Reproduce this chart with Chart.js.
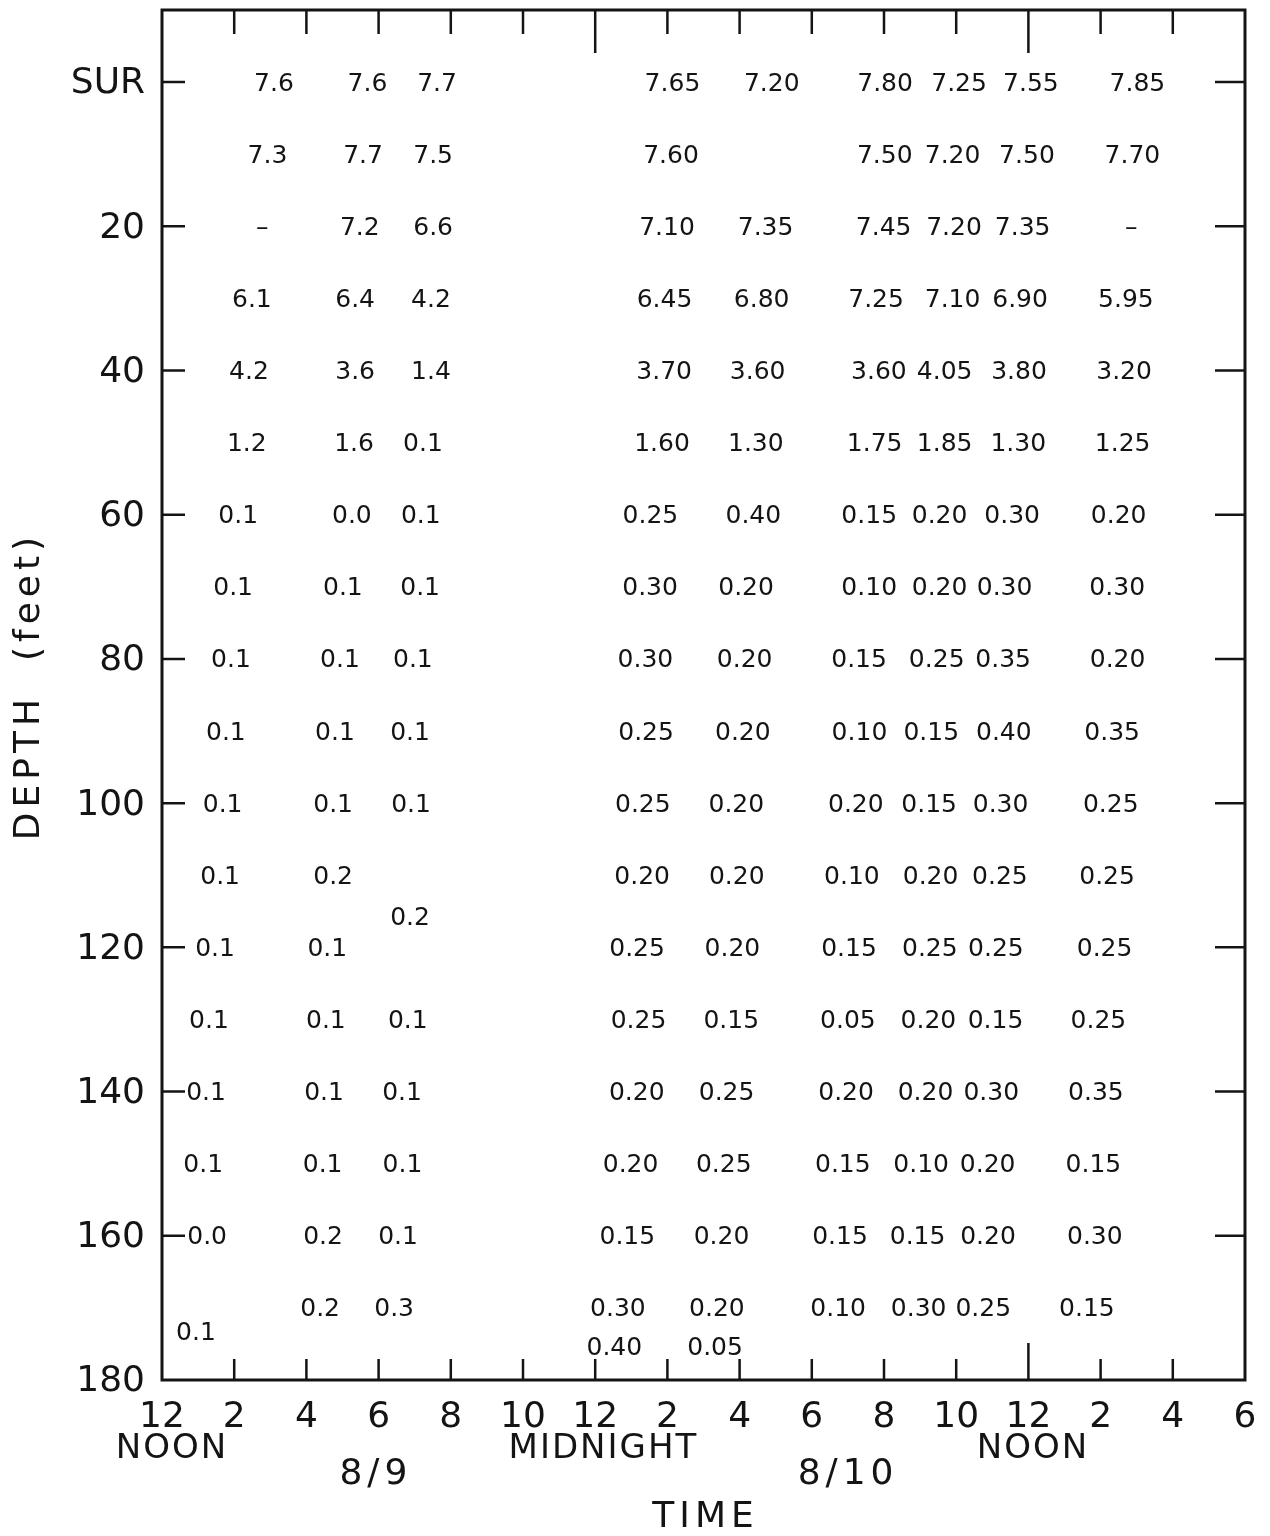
<!DOCTYPE html>
<html>
<head>
<meta charset="utf-8">
<title>Depth vs time</title>
<script src="https://cdn.jsdelivr.net/npm/chart.js@4.4.1/dist/chart.umd.min.js"></script>
<style>
  html, body { margin: 0; padding: 0; background: #fff; }
</style>
</head>
<body>
<canvas id="depthChart" width="1270" height="1536"></canvas>
<script>
// axis ticks (hours after noon 8/9, depth in feet)
const hourTicks = [0, 2, 4, 6, 8, 10, 12, 14, 16, 18, 20, 22, 24, 26, 28, 30];
const depthTicks = [0, 20, 40, 60, 80, 100, 120, 140, 160, 180];
const longTopHours = [12, 24];
const longBottomHours = [24];

// notes under the time axis
const noteHours = [0.25, 12.2, 24.1];
const noteText = ["NOON", "MIDNIGHT", "NOON"];
const dateHours = [5.87, 18.95];
const dateText = ["8/9", "8/10"];

const rows = [0, 10, 20, 30, 40, 50, 60, 70, 80, 90, 100, 110, 120, 130, 140, 150, 160, 170];

// one cast per group: depth, time of reading, value as printed
const cast1Depth = [0, 10, 20, 30, 40, 50, 60, 70, 80, 90, 100, 110, 120, 130, 140, 150, 160, 173.3];
const cast1Hour = [3.10, 2.92, 2.78, 2.49, 2.41, 2.35, 2.11, 1.97, 1.91, 1.77, 1.68, 1.61, 1.47, 1.30, 1.22, 1.14, 1.25, 0.94];
const cast1Text = ["7.6", "7.3", "–", "6.1", "4.2", "1.2", "0.1", "0.1", "0.1", "0.1", "0.1", "0.1", "0.1", "0.1", "0.1", "0.1", "0.0", "0.1"];

const cast2Depth = rows;
const cast2Hour = [5.69, 5.57, 5.48, 5.35, 5.35, 5.32, 5.26, 5.01, 4.93, 4.79, 4.74, 4.74, 4.58, 4.54, 4.49, 4.45, 4.46, 4.38];
const cast2Text = ["7.6", "7.7", "7.2", "6.4", "3.6", "1.6", "0.0", "0.1", "0.1", "0.1", "0.1", "0.2", "0.1", "0.1", "0.1", "0.1", "0.2", "0.2"];

const cast3Depth = [0, 10, 20, 30, 40, 50, 60, 70, 80, 90, 100, 115.7, 130, 140, 150, 160, 170];
const cast3Hour = [7.62, 7.51, 7.51, 7.45, 7.45, 7.23, 7.17, 7.15, 6.95, 6.87, 6.90, 6.87, 6.81, 6.65, 6.66, 6.54, 6.43];
const cast3Text = ["7.7", "7.5", "6.6", "4.2", "1.4", "0.1", "0.1", "0.1", "0.1", "0.1", "0.1", "0.2", "0.1", "0.1", "0.1", "0.1", "0.3"];

const cast4Depth = [0, 10, 20, 30, 40, 50, 60, 70, 80, 90, 100, 110, 120, 130, 140, 150, 160, 170, 175.4];
const cast4Hour = [14.14, 14.10, 13.99, 13.92, 13.91, 13.85, 13.53, 13.52, 13.39, 13.41, 13.32, 13.30, 13.16, 13.20, 13.15, 12.98, 12.89, 12.63, 12.53];
const cast4Text = ["7.65", "7.60", "7.10", "6.45", "3.70", "1.60", "0.25", "0.30", "0.30", "0.25", "0.25", "0.20", "0.25", "0.25", "0.20", "0.20", "0.15", "0.30", "0.40"];

const cast5Depth = [0, 20, 30, 40, 50, 60, 70, 80, 90, 100, 110, 120, 130, 140, 150, 160, 170, 175.4];
const cast5Hour = [16.89, 16.72, 16.61, 16.50, 16.45, 16.38, 16.18, 16.14, 16.09, 15.91, 15.92, 15.80, 15.77, 15.64, 15.56, 15.50, 15.37, 15.32];
const cast5Text = ["7.20", "7.35", "6.80", "3.60", "1.30", "0.40", "0.20", "0.20", "0.20", "0.20", "0.20", "0.20", "0.15", "0.25", "0.25", "0.20", "0.20", "0.05"];

const cast6Depth = rows;
const cast6Hour = [20.03, 20.02, 19.99, 19.78, 19.86, 19.74, 19.59, 19.59, 19.31, 19.32, 19.22, 19.11, 19.03, 19.00, 18.95, 18.86, 18.78, 18.73];
const cast6Text = ["7.80", "7.50", "7.45", "7.25", "3.60", "1.75", "0.15", "0.10", "0.15", "0.10", "0.20", "0.10", "0.15", "0.05", "0.20", "0.15", "0.15", "0.10"];

const cast7Depth = rows;
const cast7Hour = [22.08, 21.90, 21.94, 21.90, 21.68, 21.68, 21.54, 21.54, 21.46, 21.31, 21.25, 21.29, 21.27, 21.23, 21.15, 21.03, 20.93, 20.96];
const cast7Text = ["7.25", "7.20", "7.20", "7.10", "4.05", "1.85", "0.20", "0.20", "0.25", "0.15", "0.15", "0.20", "0.25", "0.20", "0.20", "0.10", "0.15", "0.30"];

const cast8Depth = rows;
const cast8Hour = [24.07, 23.96, 23.84, 23.77, 23.74, 23.72, 23.55, 23.34, 23.30, 23.32, 23.23, 23.21, 23.10, 23.09, 22.97, 22.87, 22.88, 22.75];
const cast8Text = ["7.55", "7.50", "7.35", "6.90", "3.80", "1.30", "0.30", "0.30", "0.35", "0.40", "0.30", "0.25", "0.25", "0.15", "0.30", "0.20", "0.20", "0.25"];

const cast9Depth = rows;
const cast9Hour = [27.02, 26.88, 26.85, 26.70, 26.65, 26.61, 26.50, 26.46, 26.47, 26.32, 26.28, 26.18, 26.11, 25.94, 25.87, 25.80, 25.84, 25.62];
const cast9Text = ["7.85", "7.70", "–", "5.95", "3.20", "1.25", "0.20", "0.30", "0.20", "0.35", "0.25", "0.25", "0.25", "0.25", "0.35", "0.15", "0.30", "0.15"];

const casts = [
  [cast1Depth, cast1Hour, cast1Text],
  [cast2Depth, cast2Hour, cast2Text],
  [cast3Depth, cast3Hour, cast3Text],
  [cast4Depth, cast4Hour, cast4Text],
  [cast5Depth, cast5Hour, cast5Text],
  [cast6Depth, cast6Hour, cast6Text],
  [cast7Depth, cast7Hour, cast7Text],
  [cast8Depth, cast8Hour, cast8Text],
  [cast9Depth, cast9Hour, cast9Text]
];

const INK = "#141414";
const FONT = "'DejaVu Sans', sans-serif";

function makeDatasets() {
  return casts.map(function (c, k) {
    let depth = c[0], hour = c[1], text = c[2];
    return {
      label: "cast " + (k + 1),
      data: depth.map(function (d, i) { return { x: hour[i], y: d, t: text[i] }; }),
      pointRadius: 0,
      showLine: false
    };
  });
}

// value text at each reading
const valueLabels = {
  id: "valueLabels",
  afterDatasetsDraw(chart) {
    let ctx = chart.ctx;
    ctx.save();
    ctx.fillStyle = INK;
    ctx.font = "25px " + FONT;
    ctx.textAlign = "center";
    ctx.textBaseline = "middle";
    chart.data.datasets.forEach(function (ds, k) {
      let meta = chart.getDatasetMeta(k);
      meta.data.forEach(function (pt, i) {
        // middle baseline sits a little high for digits
        ctx.fillText(ds.data[i].t, pt.x, pt.y + 2);
      });
    });
    ctx.restore();
  }
};

// frame, inward tick marks and axis notes
const frame = {
  id: "frame",
  afterDraw(chart) {
    let ctx = chart.ctx;
    let a = chart.chartArea;
    let xs = chart.scales.x, ys = chart.scales.y;
    ctx.save();
    ctx.strokeStyle = INK;
    ctx.lineWidth = 3;
    ctx.strokeRect(a.left, a.top, a.right - a.left, a.bottom - a.top);

    ctx.lineWidth = 2.5;
    ctx.beginPath();
    hourTicks.forEach(function (h) {
      if (h === hourTicks[0] || h === hourTicks[hourTicks.length - 1]) return;
      let x = xs.getPixelForValue(h);
      ctx.moveTo(x, a.top);
      ctx.lineTo(x, a.top + (longTopHours.includes(h) ? 43 : 24));
      ctx.moveTo(x, a.bottom);
      ctx.lineTo(x, a.bottom - (longBottomHours.includes(h) ? 37 : 21));
    });
    depthTicks.forEach(function (d) {
      if (d === depthTicks[depthTicks.length - 1]) return;
      let y = ys.getPixelForValue(d);
      ctx.moveTo(a.left, y);
      ctx.lineTo(a.left + 23, y);
      ctx.moveTo(a.right, y);
      ctx.lineTo(a.right - 30, y);
    });
    ctx.stroke();

    ctx.fillStyle = INK;
    ctx.textAlign = "center";
    ctx.textBaseline = "middle";
    ctx.font = "34px " + FONT;
    ctx.letterSpacing = "2px";
    noteHours.forEach(function (h, i) {
      ctx.fillText(noteText[i], xs.getPixelForValue(h) + 1, a.bottom + 69);
    });
    ctx.letterSpacing = "5px";
    ctx.font = "36px " + FONT;
    dateHours.forEach(function (h, i) {
      ctx.fillText(dateText[i], xs.getPixelForValue(h) + 2, a.bottom + 95);
    });
    ctx.fillText("TIME", (a.left + a.right) / 2 + 2, a.bottom + 138);

    ctx.translate(30, (a.top + a.bottom) / 2 - 7);
    ctx.rotate(-Math.PI / 2);
    ctx.fillText("DEPTH  (feet)", 2, 0);
    ctx.restore();
  }
};

new Chart(document.getElementById("depthChart").getContext("2d"), {
  type: "scatter",
  data: { datasets: makeDatasets() },
  options: {
    responsive: false,
    animation: false,
    layout: { padding: { top: 10, right: 25, left: 0, bottom: 0 } },
    plugins: {
      legend: { display: false },
      tooltip: { enabled: false }
    },
    scales: {
      x: {
        type: "linear",
        min: 0,
        max: 30,
        grid: { display: false, drawTicks: false },
        border: { display: false },
        afterBuildTicks: function (axis) {
          axis.ticks = hourTicks.map(function (v) { return { value: v }; });
        },
        afterFit: function (axis) {
          axis.height = 156;
          axis.paddingLeft = 0;
          axis.paddingRight = 0;
        },
        ticks: {
          autoSkip: false,
          maxRotation: 0,
          padding: 16,
          color: INK,
          font: { family: FONT, size: 36 },
          callback: function (v) {
            let h = v % 12;
            return h === 0 ? "12" : String(h);
          }
        }
      },
      y: {
        type: "linear",
        reverse: true,
        min: -10,
        max: 180,
        grid: { display: false, drawTicks: false },
        border: { display: false },
        afterBuildTicks: function (axis) {
          axis.ticks = depthTicks.map(function (v) { return { value: v }; });
        },
        afterFit: function (axis) {
          axis.width = 162;
          axis.paddingTop = 0;
          axis.paddingBottom = 0;
        },
        ticks: {
          autoSkip: false,
          padding: 17,
          labelOffset: 2,
          color: INK,
          font: { family: FONT, size: 36 },
          callback: function (v) { return v === 0 ? "SUR" : String(v); }
        }
      }
    }
  },
  plugins: [valueLabels, frame]
});
</script>
</body>
</html>
